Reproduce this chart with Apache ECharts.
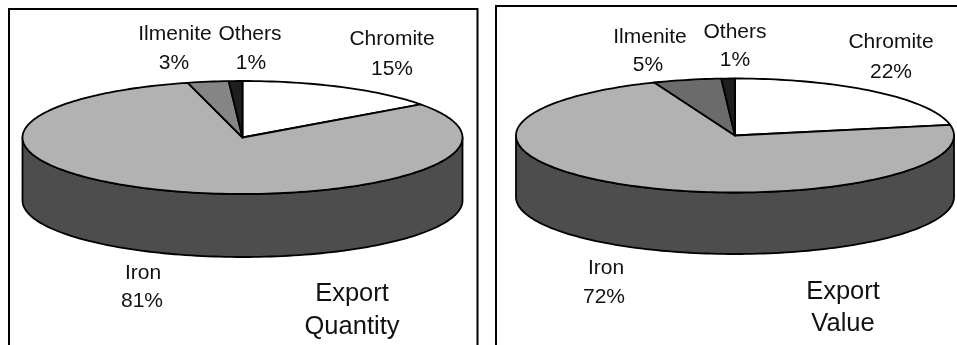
<!DOCTYPE html>
<html>
<head>
<meta charset="utf-8">
<style>html,body{margin:0;padding:0;background:#fff}#chart{width:957px;height:345px}</style>
<script src="https://cdn.jsdelivr.net/npm/echarts@6/dist/echarts.min.js"></script>
</head>
<body>
<div id="chart"></div>
<script>
// Mineral export shares, clockwise from twelve o'clock
const minerals = ['Chromite', 'Iron', 'Ilmenite', 'Others'];
const quantityShare = [15, 81, 3, 1];
const valueShare = [22, 72, 5, 1];

const panelTitles = [['Export', 'Quantity'], ['Export', 'Value']];

const topColors = [
  ['#ffffff', '#b2b2b2', '#858585', '#1e1e1e'],
  ['#ffffff', '#b2b2b2', '#6b6b6b', '#1e1e1e']
];
const wallColor = '#4d4d4d';
const FONT = '"Liberation Sans", Arial, sans-serif';

// Ellipse geometry of each tilted disc
const discs = [
  { cx: 242.5, cy: 137.5, rx: 220, ry: 56.5, depth: 63 },
  { cx: 735, cy: 135.5, rx: 219, ry: 57, depth: 61.5 }
];

// Label anchors per mineral: name x/y, percent x/y
const labelAnchors = [
  [[392, 39, 392, 69], [143, 273, 142, 301], [175, 34, 174, 63], [250, 34, 251, 63]],
  [[891, 42, 891, 72], [606, 268, 604, 297], [650, 37, 648, 65], [735, 32, 735, 60]]
];
const titleAnchors = [
  [[352, 294], [352, 327]],
  [[843, 292], [843, 324]]
];

function rimPoint(d, turn, drop) {
  const a = turn * 2 * Math.PI;
  return [d.cx + d.rx * Math.sin(a), d.cy - d.ry * Math.cos(a) + (drop || 0)];
}

function arc(d, from, to, drop) {
  const pts = [];
  const steps = Math.max(2, Math.ceil((to - from) * 240));
  for (let i = 0; i <= steps; i++) {
    pts.push(rimPoint(d, from + (to - from) * i / steps, drop));
  }
  return pts;
}

const edge = { stroke: '#000', lineWidth: 1.8, lineJoin: 'round' };

function sliceRenderer(panel) {
  const d = discs[panel];
  return function (params, api) {
    const i = params.dataIndex;
    const from = api.value(1) / 100;
    const to = from + api.value(0) / 100;
    const children = [];

    // Outer wall shows only on the near half of the rim
    const wallFrom = Math.max(from, 0.25);
    const wallTo = Math.min(to, 0.75);
    if (wallTo > wallFrom) {
      const upper = arc(d, wallFrom, wallTo, 0);
      const lower = arc(d, wallFrom, wallTo, d.depth).reverse();
      children.push({
        type: 'polygon',
        shape: { points: upper.concat(lower) },
        style: Object.assign({ fill: wallColor }, edge)
      });
    }

    children.push({
      type: 'polygon',
      shape: { points: [[d.cx, d.cy]].concat(arc(d, from, to, 0)) },
      style: Object.assign({ fill: topColors[panel][i] }, edge)
    });

    const a = labelAnchors[panel][i];
    const text = (t, x, y) => ({
      type: 'text',
      z2: 10,
      style: { text: t, x, y, fill: '#111', font: '21px ' + FONT, align: 'center', verticalAlign: 'middle' }
    });
    children.push(text(minerals[i], a[0], a[1]));
    children.push(text(Math.round(api.value(0)) + '%', a[2], a[3]));

    return { type: 'group', children };
  };
}

function sliceRows(shares) {
  let before = 0;
  return shares.map(v => {
    const row = [v, before];
    before += v;
    return row;
  });
}

const titleText = [];
panelTitles.forEach((lines, p) => lines.forEach((t, k) => {
  titleText.push({
    type: 'text', z: 20,
    style: { text: t, x: titleAnchors[p][k][0], y: titleAnchors[p][k][1], fill: '#111',
      font: '25.5px ' + FONT, align: 'center', verticalAlign: 'middle' }
  });
}));

const chart = echarts.init(document.getElementById('chart'), null, { renderer: 'canvas' });
chart.setOption({
  animation: false,
  backgroundColor: '#fff',
  graphic: [
    { type: 'polyline', z: 20, shape: { points: [[9, 360], [9, 9], [477.5, 9], [477.5, 360]] },
      style: { fill: null, stroke: '#000', lineWidth: 2 } },
    { type: 'polyline', z: 20, shape: { points: [[496, 360], [496, 6], [970, 6]] },
      style: { fill: null, stroke: '#000', lineWidth: 2 } }
  ].concat(titleText),
  series: [
    { type: 'custom', coordinateSystem: 'none', clip: false, silent: true,
      data: sliceRows(quantityShare), encode: { value: [0, 1] }, renderItem: sliceRenderer(0) },
    { type: 'custom', coordinateSystem: 'none', clip: false, silent: true,
      data: sliceRows(valueShare), encode: { value: [0, 1] }, renderItem: sliceRenderer(1) }
  ]
});
</script>
</body>
</html>
